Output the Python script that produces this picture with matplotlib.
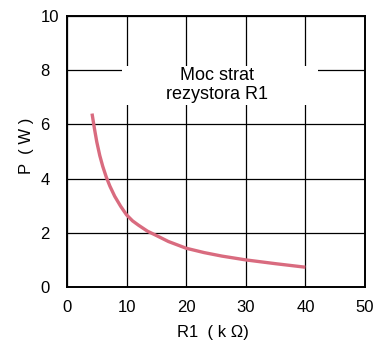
import matplotlib
matplotlib.use("Agg")
from matplotlib import pyplot as plt
from matplotlib.patches import Rectangle

plt.rcParams['font.family'] = ['Liberation Sans', 'DejaVu Sans']

# values
r1_kohm = [4.2, 4.6, 5.0, 5.5, 6.0, 6.6, 7.2, 8.0, 9.0, 10.0, 11.0, 12.0, 13.5,
           15.0, 17.0, 20.0, 23.0, 26.0, 30.0, 35.0, 40.0]
power_w = [6.4, 5.85, 5.35, 4.85, 4.45, 4.05, 3.72, 3.35, 2.98, 2.66, 2.44, 2.28, 2.06,
           1.9, 1.68, 1.43, 1.27, 1.14, 1.0, 0.86, 0.73]

x_ticks = [0, 10, 20, 30, 40, 50]
y_ticks = [0, 2, 4, 6, 8, 10]

fig = plt.figure(figsize=(3.74, 3.42), dpi=100)
# axes box in pixels: left 67, right 365, top 16, bottom 287
ax = fig.add_axes([67 / 374, (342 - 287) / 342, (365 - 67) / 374, (287 - 16) / 342])

ax.set_xlim(0, 50)
ax.set_ylim(0, 10)
ax.set_xticks(x_ticks)
ax.set_yticks(y_ticks)
ax.tick_params(length=0, labelsize=12)
ax.tick_params(axis='x', pad=9)
ax.tick_params(axis='y', pad=19)
for lbl in ax.get_yticklabels():
    lbl.set_horizontalalignment('left')

ax.grid(True, color='black', linewidth=0.9)
ax.set_axisbelow(True)
for s in ax.spines.values():
    s.set_linewidth(1.4)

# white patch behind the title text, cuts the grid
ax.add_patch(Rectangle((9.2, 6.72), 32.9, 1.43, facecolor='white',
                       edgecolor='none', zorder=1.5))
ax.text(25.1, 7.45, "Moc strat\nrezystora R1", ha='center', va='center',
        fontsize=13, linespacing=1.15, zorder=3)

ax.plot(r1_kohm, power_w, color='#d96b7f', linewidth=2.4,
        solid_capstyle='butt', zorder=2.5)

ax.set_xlabel("R1  ( k \u03a9)", fontsize=12)
ax.xaxis.set_label_coords(0.49, -0.142)
ax.set_ylabel("P  ( W )", fontsize=12)
ax.yaxis.set_label_coords(-0.11, 0.52)

fig.savefig("out.png", dpi=100)
